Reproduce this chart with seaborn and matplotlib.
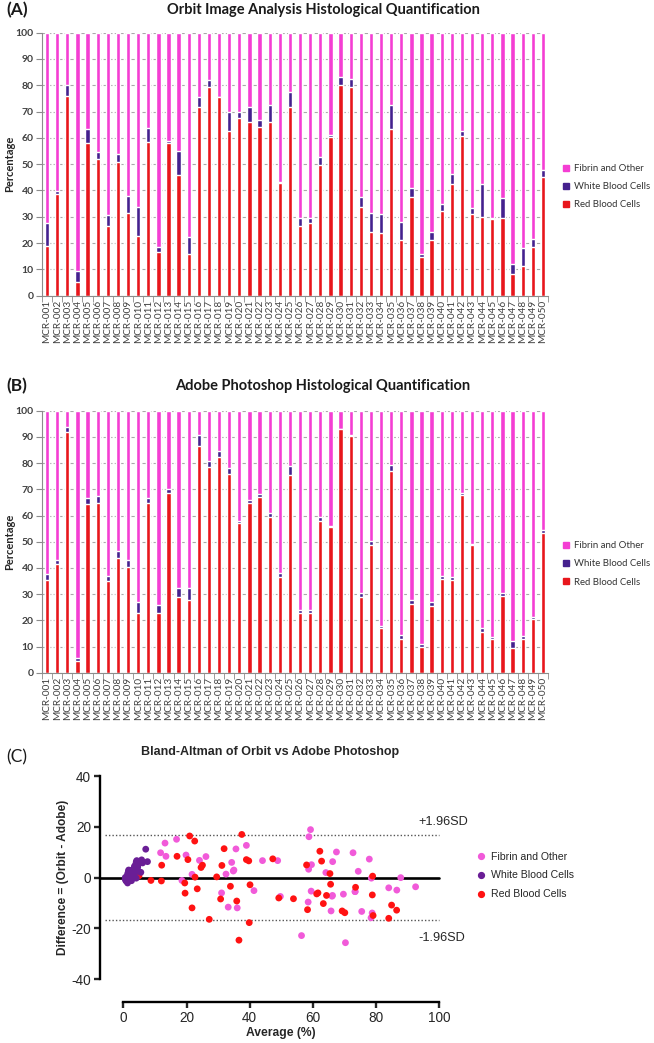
import numpy as np
import pandas as pd
import matplotlib
matplotlib.use("Agg")
import matplotlib.pyplot as plt
import seaborn as sns
from matplotlib.lines import Line2D

sns.set_style("white")
plt.rcParams["font.family"] = ["Lato", "DejaVu Sans"]
plt.rcParams["axes.unicode_minus"] = False

# ---------------- data ----------------
samples = [f"MCR-{i:03d}" for i in range(1, 51)]
categories = ["Fibrin and Other", "White Blood Cells", "Red Blood Cells"]

orbit_red = [19.0, 38.7, 76.0, 5.3, 58.0, 52.0, 26.6, 51.0, 31.3, 22.8,
             58.6, 16.5, 58.2, 46.0, 15.8, 71.6, 79.2, 75.4, 62.7, 67.4,
             66.2, 64.3, 66.0, 43.0, 71.6, 26.6, 27.5, 49.7, 60.5, 80.1,
             79.5, 33.6, 24.3, 24.0, 63.2, 21.2, 37.6, 14.6, 21.2, 32.2,
             42.5, 60.8, 31.0, 29.8, 29.2, 29.7, 8.2, 11.4, 18.4, 45.2]
orbit_wbc = [8.5, 1.0, 4.0, 4.0, 5.5, 2.7, 4.0, 3.0, 6.6, 10.8,
             5.3, 2.0, 0.5, 9.0, 6.6, 4.0, 2.8, 0.3, 7.0, 2.5,
             5.7, 2.5, 6.6, 0.2, 6.0, 2.8, 1.9, 2.9, 0.7, 3.2,
             2.8, 4.0, 7.0, 7.2, 9.3, 7.0, 3.2, 1.3, 3.2, 2.7,
             3.8, 1.9, 2.2, 12.7, 0.3, 7.6, 4.0, 6.6, 3.2, 2.6]
adobe_red = [35.4, 41.5, 92.0, 4.6, 64.4, 64.6, 35.0, 43.6, 40.5, 22.6,
             64.6, 22.6, 68.4, 29.0, 27.7, 86.5, 78.6, 82.2, 75.8, 57.0,
             64.6, 66.9, 59.5, 36.4, 75.4, 22.6, 22.6, 58.0, 55.5, 92.9,
             90.3, 28.8, 48.9, 16.9, 77.0, 12.8, 26.2, 9.7, 25.6, 35.6,
             35.4, 67.8, 48.7, 15.4, 12.8, 29.4, 9.3, 12.7, 20.5, 53.2]
adobe_wbc = [2.2, 1.5, 1.6, 1.1, 2.1, 2.8, 1.9, 3.0, 2.5, 4.5,
             1.9, 3.2, 1.6, 3.2, 4.5, 4.2, 2.3, 2.4, 2.2, 1.0,
             1.3, 1.3, 1.5, 1.5, 3.5, 1.3, 1.3, 1.3, 0.6, 0.2,
             0.4, 1.5, 1.3, 1.0, 2.3, 1.5, 1.5, 1.3, 1.3, 1.3,
             1.3, 0.9, 0.6, 1.5, 0.9, 0.9, 2.9, 1.3, 0.9, 1.3]
limits_of_agreement = [16.6, -16.6]

# ---------------- styles ----------------
bar_colors = {"Fibrin and Other": "#F43ED3", "White Blood Cells": "#45218E",
              "Red Blood Cells": "#E8161C"}
dot_colors = {"Fibrin and Other": "#F15AD9", "White Blood Cells": "#6A1E96",
              "Red Blood Cells": "#FF1212"}
W, H = 654, 1043
fig = plt.figure(figsize=(W / 100, H / 100), dpi=100)


def fx(px):
    return px / W


def fy(py):
    return 1 - py / H


def bar_panel(rect, red, wbc, title, letter, title_y, legend_y):
    ax = fig.add_axes(rect)
    red = np.asarray(red, float)
    wbc = np.asarray(wbc, float)
    fib = 100 - red - wbc
    layers = [(red + wbc + fib, "Fibrin and Other"),
              (red + wbc, "White Blood Cells"),
              (red, "Red Blood Cells")]
    for h, name in layers:
        sns.barplot(x=samples, y=h, order=samples, color=bar_colors[name],
                    saturation=1, width=0.42, errorbar=None, ax=ax)
    ax.set_xlim(-0.5, len(samples) - 0.5)
    ax.set_ylim(0, 100)
    ax.set_yticks(range(0, 101, 10))
    ax.yaxis.grid(True, linestyle=(0, (3, 2)), color="#A8A8A8", lw=0.8)
    ax.set_axisbelow(True)
    for s in ["top", "right"]:
        ax.spines[s].set_visible(False)
    for s in ["left", "bottom"]:
        ax.spines[s].set_color("#8C8C8C")
        ax.spines[s].set_linewidth(0.8)
    ax.set_xlabel("")
    ax.set_ylabel("")
    ax.tick_params(axis="y", left=True, length=4, color="#8C8C8C",
                   labelsize=7.5, labelcolor="#404040", pad=2)
    ax.set_xticks(np.arange(-0.5, len(samples), 1), minor=True)
    ax.tick_params(axis="x", which="major", bottom=True, length=0,
                   labelrotation=90, labelsize=7.2, labelcolor="#404040", pad=3)
    ax.tick_params(axis="x", which="minor", bottom=True, length=4,
                   color="#8C8C8C")
    for t in ax.get_yticklabels():
        t.set_fontweight("bold")
    fig.text(fx(10), (rect[1] + rect[1] + rect[3]) / 2, "Percentage",
             rotation=90, ha="center", va="center", fontsize=8,
             fontweight="bold", color="#262626")
    fig.text(fx(323), fy(title_y), title, ha="center", va="center",
             fontsize=10.5, fontweight="bold", color="#1a1a1a")
    fig.text(fx(6), fy(title_y), letter, ha="left", va="center",
             fontsize=12.5, fontweight="bold", color="#1a1a1a")
    handles = [Line2D([], [], marker="s", linestyle="", markersize=4.2,
                      color=bar_colors[c]) for c in categories]
    fig.legend(handles, categories, loc="center left",
               bbox_to_anchor=(fx(563), fy(legend_y)), frameon=False,
               fontsize=6.9, handlelength=0.7, handletextpad=0.45,
               labelspacing=0.95, borderpad=0, borderaxespad=0,
               labelcolor="#333333")
    return ax


rectA = [fx(42), fy(295.7), fx(548) - fx(42), (295.7 - 32.7) / H]
rectB = [fx(42), fy(672.7), fx(548) - fx(42), (672.7 - 410.7) / H]
bar_panel(rectA, orbit_red, orbit_wbc,
          "Orbit Image Analysis Histological Quantification", "(A)", 10, 186.7)
bar_panel(rectB, adobe_red, adobe_wbc,
          "Adobe Photoshop Histological Quantification", "(B)", 386, 564)

# ---------------- Bland-Altman ----------------
o_red, o_wbc = np.asarray(orbit_red), np.asarray(orbit_wbc)
a_red, a_wbc = np.asarray(adobe_red), np.asarray(adobe_wbc)
o_fib, a_fib = 100 - o_red - o_wbc, 100 - a_red - a_wbc
pairs = {"Fibrin and Other": (o_fib, a_fib),
         "Red Blood Cells": (o_red, a_red),
         "White Blood Cells": (o_wbc, a_wbc)}
frames = []
for name, (o, a) in pairs.items():
    frames.append(pd.DataFrame({"Average": (o + a) / 2, "Difference": o - a,
                                "Type": name}))
ba = pd.concat(frames, ignore_index=True)

arial = "Liberation Sans"
x0px, x1px, y0px, y1px = 123.3, 439.3, 776.0, 979.3
axc = fig.add_axes([fx(x0px), fy(y1px), (x1px - x0px) / W, (y1px - y0px) / H])
sns.scatterplot(data=ba, x="Average", y="Difference", hue="Type",
                hue_order=categories, palette=dot_colors, s=24,
                edgecolor="none", linewidth=0, legend=False, ax=axc,
                clip_on=False, zorder=3)
axc.set_xlim(0, 100)
axc.set_ylim(-40, 40)
axc.set_xticks(range(0, 101, 20))
axc.set_yticks([-40, -20, 0, 20, 40])
axc.set_xlabel("")
axc.set_ylabel("")
for s in ["top", "right"]:
    axc.spines[s].set_visible(False)
axc.spines["left"].set_position(("outward", 16.8))
axc.spines["bottom"].set_position(("outward", 16.3))
for s in ["left", "bottom"]:
    axc.spines[s].set_linewidth(1.7)
    axc.spines[s].set_color("black")
axc.tick_params(axis="both", left=True, bottom=True, direction="out",
                length=4.5, width=1.7, labelsize=9.8, pad=2)
for t in axc.get_xticklabels() + axc.get_yticklabels():
    t.set_fontfamily(arial)

xmin_line = (100 - x0px) / (x1px - x0px)
axc.axhline(0, xmin=xmin_line, xmax=1, color="black", lw=1.9, clip_on=False,
            zorder=2)
for v in limits_of_agreement:
    axc.axhline(v, xmin=(105 - x0px) / (x1px - x0px), xmax=1,
                color="#555555", lw=1.0, ls=(0, (1, 1.5)), clip_on=False,
                zorder=1)
axc.text(93.5, 22, "+1.96SD", ha="left", va="center", fontsize=9.2,
         family=arial)
axc.text(93.5, -23.9, "-1.96SD", ha="left", va="center", fontsize=9.2,
         family=arial)

fig.text(fx(270), fy(752), "Bland-Altman of Orbit vs Adobe Photoshop",
         ha="center", va="center", fontsize=9, fontweight="bold", family=arial)
fig.text(fx(6), fy(757), "(C)", ha="left", va="center", fontsize=12.5,
         color="#1a1a1a")
fig.text(fx(63), fy(877.7), "Difference = (Orbit - Adobe)", rotation=90,
         ha="center", va="center", fontsize=8.6, fontweight="bold",
         family=arial)
fig.text(fx(281), fy(1033), "Average (%)", ha="center", va="center",
         fontsize=8.7, fontweight="bold", family=arial)

handlesC = [Line2D([], [], marker="o", linestyle="", markersize=4.2,
                   color=dot_colors[c]) for c in categories]
fig.legend(handlesC, categories, loc="center left",
           bbox_to_anchor=(fx(477), fy(875.5)), frameon=False,
           prop={"family": arial, "size": 7.6}, handlelength=0.8,
           handletextpad=0.55, labelspacing=0.85, borderpad=0,
           borderaxespad=0)

fig.savefig("out.png", dpi=100)
